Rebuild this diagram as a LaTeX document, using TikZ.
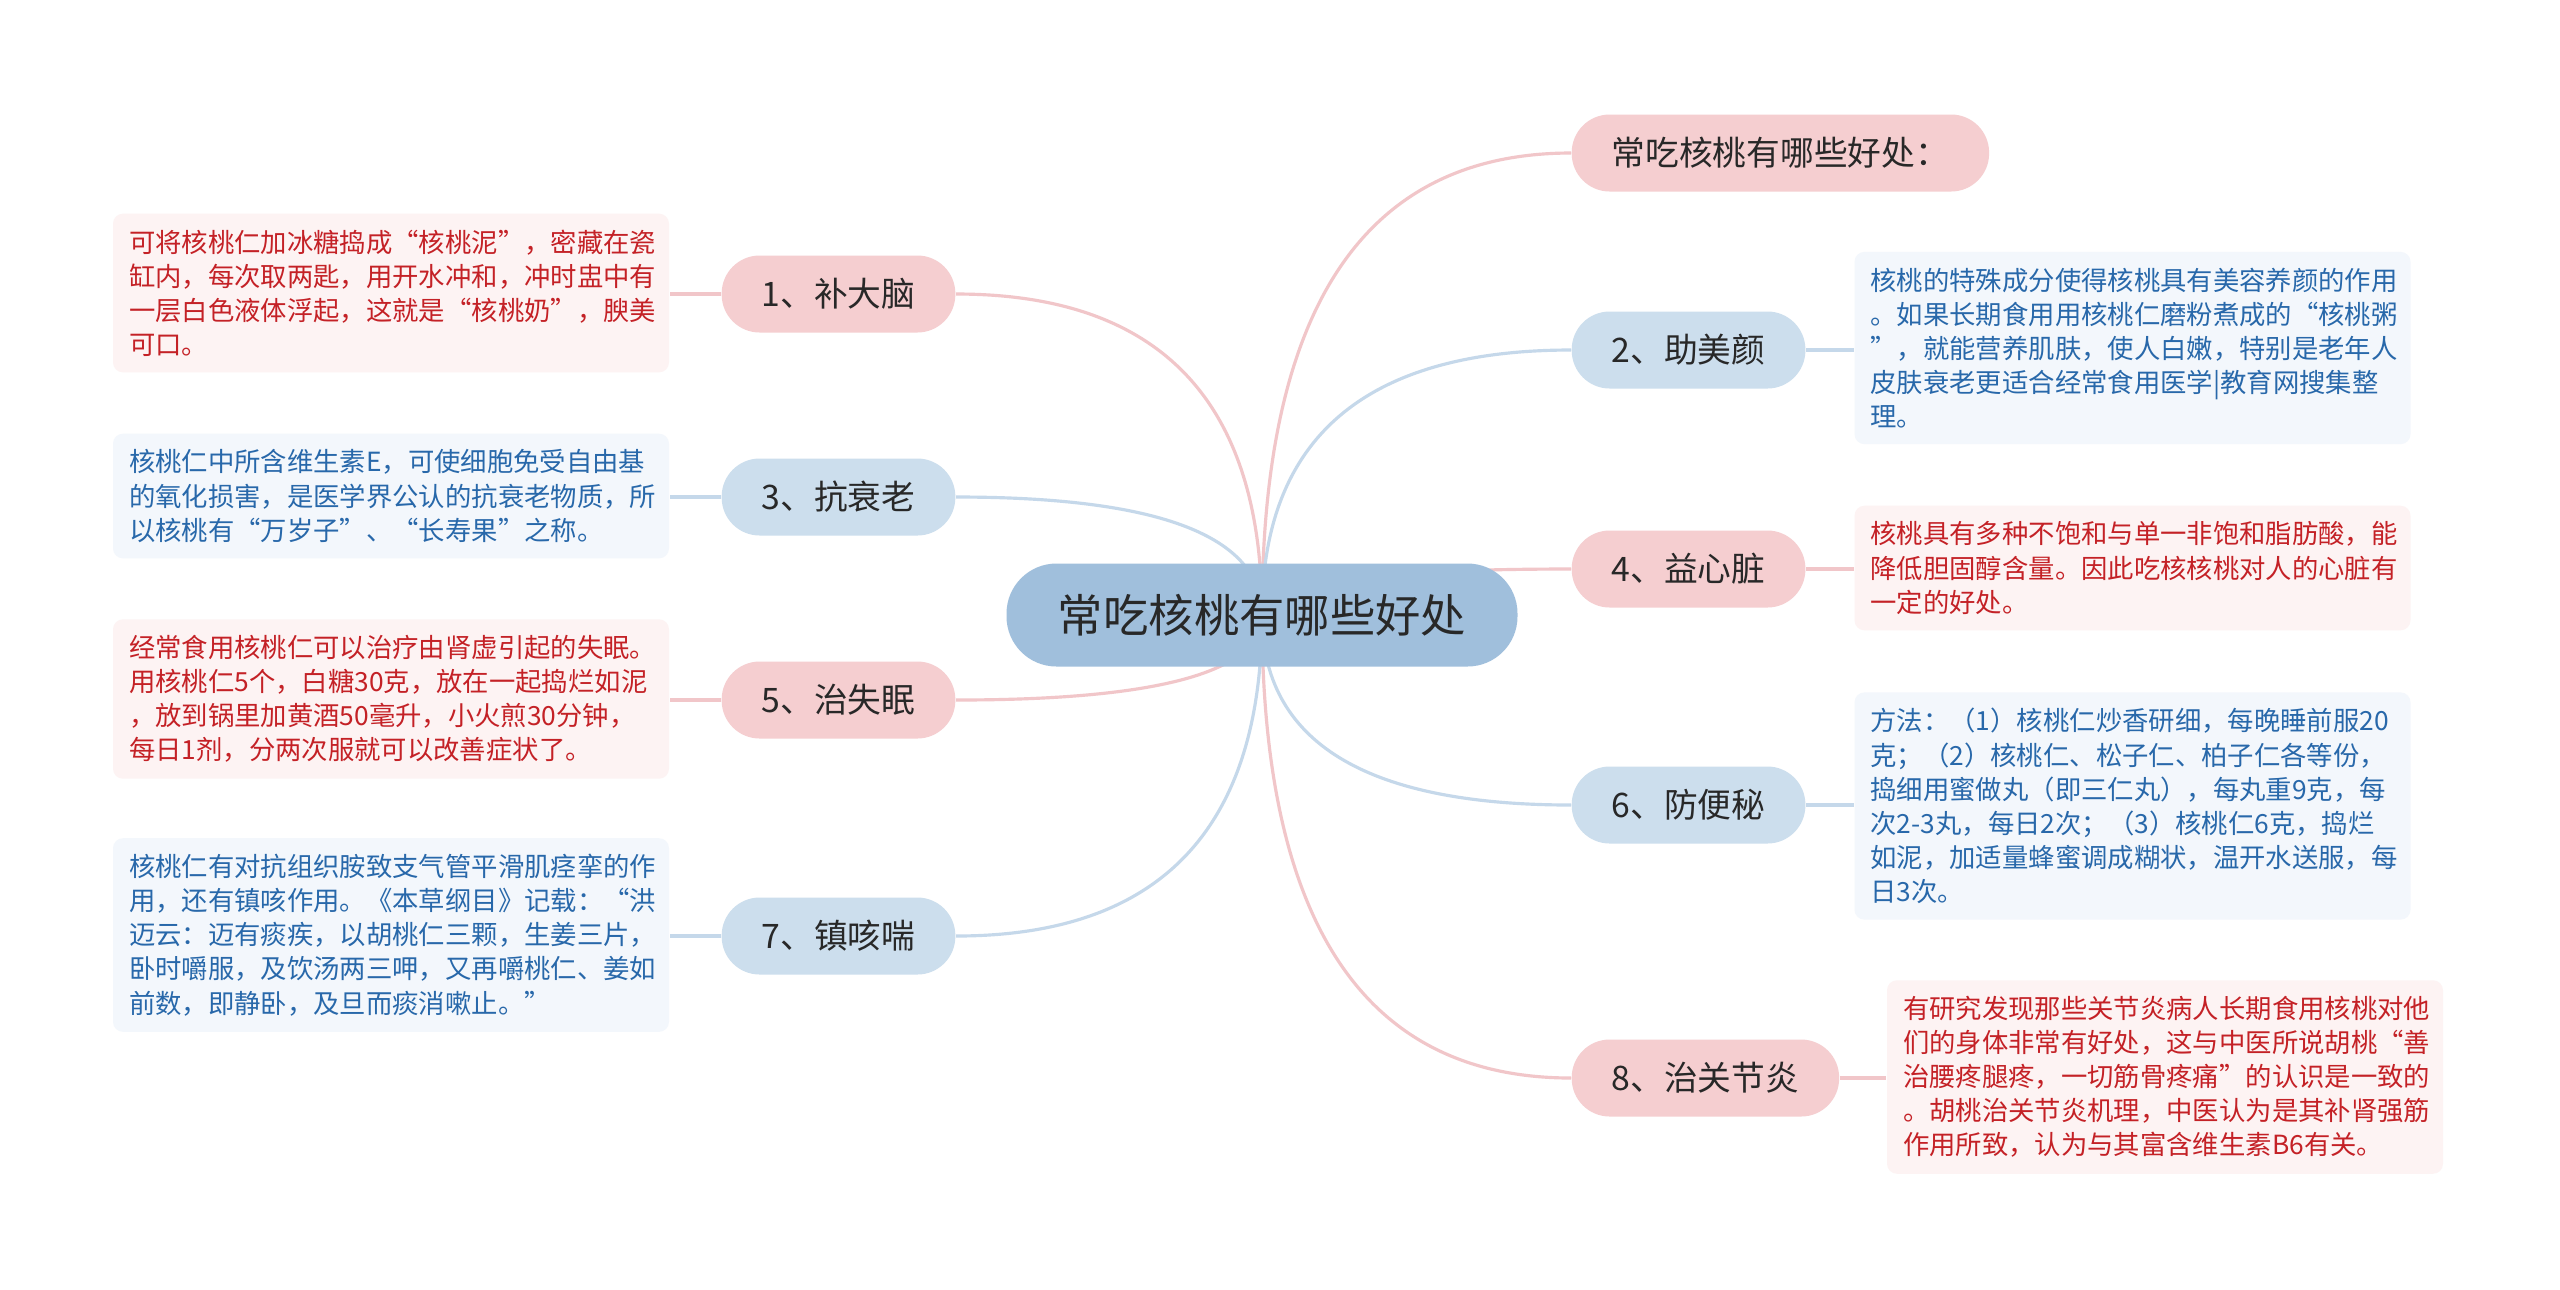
\documentclass[tikz,border=0pt]{standalone}
\usepackage{fontspec}
\setmainfont{Noto Sans CJK SC}
\usetikzlibrary{positioning, calc, backgrounds}
\definecolor{rootblue}{RGB}{160,191,220}
\definecolor{pinkfill}{RGB}{245,206,208}
\definecolor{bluefill}{RGB}{204,222,237}
\definecolor{pinkline}{RGB}{241,198,201}
\definecolor{blueline}{RGB}{197,216,234}
\definecolor{pinknote}{RGB}{253,243,243}
\definecolor{bluenote}{RGB}{243,247,252}
\definecolor{redtext}{RGB}{196,33,38}
\definecolor{bluetext}{RGB}{40,104,170}
\definecolor{pilltext}{RGB}{40,40,40}

\begin{document}
\begin{tikzpicture}[
  root/.style={rounded corners=0.5cm, fill=rootblue, text=pilltext, minimum width=5.11cm, minimum height=1.03cm, font=\fontsize{12.9}{15}\selectfont},
  pill/.style={rounded corners=0.38cm, text=pilltext, inner xsep=0.4cm, minimum width=2.33cm, minimum height=0.77cm, font=\fontsize{9.6}{11}\selectfont},
  pinkpill/.style={pill, fill=pinkfill},
  bluepill/.style={pill, fill=bluefill},
  note/.style={rounded corners=0.1cm, align=left, text width=5.24cm, inner xsep=0.16cm, inner ysep=0.16cm, font=\fontsize{7.5}{9.7}\selectfont},
  rednote/.style={note, fill=pinknote, text=redtext},
  bluenote/.style={note, fill=bluenote, text=bluetext},
  link/.style={line width=0.9pt},
  branch/.style={to path={.. controls ($(\tikztostart)!0.667!(\tikztostart |- \tikztotarget)$) and ($(\tikztotarget)!0.667!(\tikztostart |- \tikztotarget)$) .. (\tikztotarget)}}]

\useasboundingbox (0,0) rectangle (25.6,-12.89);

\node[root] at (12.62,-6.15) (root) {常吃核桃有哪些好处};

% right side
\node[pinkpill, anchor=west] at (15.71,-1.53) (p0) {常吃核桃有哪些好处：};
\node[bluepill, anchor=west] at (15.71,-3.50) (p2) {2、助美颜};
\node[pinkpill, anchor=west] at (15.71,-5.69) (p4) {4、益心脏};
\node[bluepill, anchor=west] at (15.71,-8.05) (p6) {6、防便秘};
\node[pinkpill, anchor=west] at (15.71,-10.78) (p8) {8、治关节炎};

% left side
\node[pinkpill] at (8.385,-2.94) (p1) {1、补大脑};
\node[bluepill] at (8.385,-4.97) (p3) {3、抗衰老};
\node[pinkpill] at (8.385,-7.00) (p5) {5、治失眠};
\node[bluepill] at (8.385,-9.36) (p7) {7、镇咳喘};

% notes
\node[rednote] at (3.91,-2.93) (b1) {可将核桃仁加冰糖捣成“核桃泥”，密藏在瓷\\缸内，每次取两匙，用开水冲和，冲时盅中有\\一层白色液体浮起，这就是“核桃奶”，腴美\\可口。};
\node[bluenote] at (3.91,-4.96) (b3) {核桃仁中所含维生素E，可使细胞免受自由基\\的氧化损害，是医学界公认的抗衰老物质，所\\以核桃有“万岁子”、“长寿果”之称。};
\node[rednote] at (3.91,-6.99) (b5) {经常食用核桃仁可以治疗由肾虚引起的失眠。\\用核桃仁5个，白糖30克，放在一起捣烂如泥\\，放到锅里加黄酒50毫升，小火煎30分钟，\\每日1剂，分两次服就可以改善症状了。};
\node[bluenote] at (3.91,-9.35) (b7) {核桃仁有对抗组织胺致支气管平滑肌痉挛的作\\用，还有镇咳作用。《本草纲目》记载：“洪\\迈云：迈有痰疾，以胡桃仁三颗，生姜三片，\\卧时嚼服，及饮汤两三呷，又再嚼桃仁、姜如\\前数，即静卧，及旦而痰消嗽止。”};
\node[bluenote] at (21.325,-3.48) (b2) {核桃的特殊成分使得核桃具有美容养颜的作用\\。如果长期食用用核桃仁磨粉煮成的“核桃粥\\”，就能营养肌肤，使人白嫩，特别是老年人\\皮肤衰老更适合经常食用医学|教育网搜集整\\理。};
\node[rednote] at (21.325,-5.68) (b4) {核桃具有多种不饱和与单一非饱和脂肪酸，能\\降低胆固醇含量。因此吃核核桃对人的心脏有\\一定的好处。};
\node[bluenote] at (21.325,-8.06) (b6) {方法：（1）核桃仁炒香研细，每晚睡前服20\\克；（2）核桃仁、松子仁、柏子仁各等份，\\捣细用蜜做丸（即三仁丸），每丸重9克，每\\次2-3丸，每日2次；（3）核桃仁6克，捣烂\\如泥，加适量蜂蜜调成糊状，温开水送服，每\\日3次。};
\node[rednote] at (21.65,-10.77) (b8) {有研究发现那些关节炎病人长期食用核桃对他\\们的身体非常有好处，这与中医所说胡桃“善\\治腰疼腿疼，一切筋骨疼痛”的认识是一致的\\。胡桃治关节炎机理，中医认为是其补肾强筋\\作用所致，认为与其富含维生素B6有关。};

\begin{scope}[on background layer]
\fill[white] (0,0) rectangle (25.6,-12.89);
% branches from the root
\draw[link, pinkline] (root.center) to[branch] (p0.west);
\draw[link, blueline] (root.center) to[branch] (p2.west);
\draw[link, pinkline] (root.center) to[branch] (p4.west);
\draw[link, blueline] (root.center) to[branch] (p6.west);
\draw[link, pinkline] (root.center) to[branch] (p8.west);
\draw[link, pinkline] (root.center) to[branch] (p1.east);
\draw[link, blueline] (root.center) to[branch] (p3.east);
\draw[link, pinkline] (root.center) to[branch] (p5.east);
\draw[link, blueline] (root.center) to[branch] (p7.east);
% pill to note
\draw[link, pinkline] (p1.west) -- (p1.west -| b1.east);
\draw[link, blueline] (p3.west) -- (p3.west -| b3.east);
\draw[link, pinkline] (p5.west) -- (p5.west -| b5.east);
\draw[link, blueline] (p7.west) -- (p7.west -| b7.east);
\draw[link, blueline] (p2.east) -- (p2.east -| b2.west);
\draw[link, pinkline] (p4.east) -- (p4.east -| b4.west);
\draw[link, blueline] (p6.east) -- (p6.east -| b6.west);
\draw[link, pinkline] (p8.east) -- (p8.east -| b8.west);
\end{scope}
\end{tikzpicture}
\end{document}
